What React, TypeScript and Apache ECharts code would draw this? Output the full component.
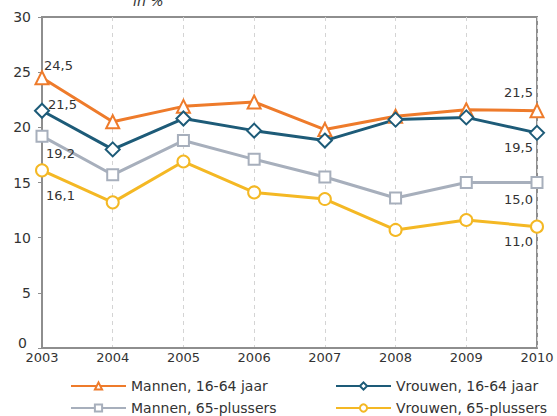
import React, { useEffect, useRef } from "react";
import * as echarts from "echarts";

const years = ["2003", "2004", "2005", "2006", "2007", "2008", "2009", "2010"];
const mannen1664 = [24.5, 20.5, 21.9, 22.3, 19.8, 21.0, 21.6, 21.5];
const vrouwen1664 = [21.5, 18.0, 20.8, 19.7, 18.8, 20.7, 20.9, 19.5];
const mannen65 = [19.2, 15.7, 18.8, 17.1, 15.5, 13.6, 15.0, 15.0];
const vrouwen65 = [16.1, 13.2, 16.9, 14.1, 13.5, 10.7, 11.6, 11.0];
const yTicks = [0, 5, 10, 15, 20, 25, 30];

const FONT = "DejaVu Sans";
const TXT = "#333333";
const AXIS = "#8e8e8e";

const fmt = (v: number) => v.toFixed(1).replace(".", ",");

type Cfg = {
  name: string;
  data: number[];
  color: string;
  symbol: string;
  size: number;
  first: [number, number];
  last: [number, number];
  legendPos: [number, number];
};

const cfgs: Cfg[] = [
  { name: "Mannen, 16-64 jaar", data: mannen1664, color: "#EE7B2B", symbol: "triangle", size: 13, first: [1, -12], last: [-3, -18], legendPos: [70, 379] },
  { name: "Vrouwen, 16-64 jaar", data: vrouwen1664, color: "#1D5B78", symbol: "diamond", size: 14, first: [5, -6], last: [-3, 15], legendPos: [335, 379] },
  { name: "Mannen, 65-plussers", data: mannen65, color: "#A7AFBC", symbol: "rect", size: 11, first: [3, 17], last: [-3, 17], legendPos: [70, 401] },
  { name: "Vrouwen, 65-plussers", data: vrouwen65, color: "#F4B824", symbol: "circle", size: 12, first: [3, 25], last: [-3, 15], legendPos: [335, 401] },
];

function buildSeries(c: Cfg) {
  const n = c.data.length;
  return {
    name: c.name,
    type: "line",
    data: c.data.map((v, i) => {
      if (i === 0) {
        return {
          value: v,
          label: {
            show: true,
            position: "right",
            distance: 0,
            offset: [c.first[0] - c.size / 2, c.first[1]],
            align: "left",
            verticalAlign: "middle",
          },
        };
      }
      if (i === n - 1) {
        return {
          value: v,
          label: {
            show: true,
            position: "left",
            distance: 0,
            offset: [c.last[0] + c.size / 2, c.last[1]],
            align: "right",
            verticalAlign: "middle",
          },
        };
      }
      return v;
    }),
    symbol: c.symbol,
    symbolSize: c.size,
    showAllSymbol: true,
    lineStyle: { color: c.color, width: 3 },
    itemStyle: { color: "#ffffff", borderColor: c.color, borderWidth: 2 },
    label: {
      show: false,
      color: TXT,
      fontFamily: FONT,
      fontSize: 13,
      formatter: (p: any) => fmt(p.value),
    },
    emphasis: { disabled: true },
    z: 3,
  };
}

export default function App() {
  const ref = useRef<HTMLDivElement>(null);
  useEffect(() => {
    if (!ref.current) return;
    const chart = echarts.init(ref.current, undefined, { renderer: "svg" });
    const legendText = { color: TXT, fontFamily: FONT, fontSize: 14 };
    chart.setOption({
      animation: false,
      backgroundColor: "#ffffff",
      title: {
        text: "in %",
        left: 128,
        top: -11,
        textStyle: { fontFamily: FONT, fontSize: 14, fontStyle: "italic", fontWeight: "normal", color: TXT },
      },
      grid: {
        left: 42,
        right: 20,
        top: 17,
        bottom: 68,
        show: true,
        borderColor: AXIS,
        borderWidth: 2,
        backgroundColor: "transparent",
      },
      legend: cfgs.map((c) => ({
        data: [c.name],
        orient: "horizontal",
        left: c.legendPos[0],
        top: c.legendPos[1],
        itemWidth: 55,
        itemHeight: 9,
        padding: 0,
        textStyle: legendText,
        selectedMode: false,
      })),
      xAxis: {
        type: "category",
        data: years,
        boundaryGap: false,
        axisLine: { lineStyle: { color: AXIS, width: 2 } },
        axisTick: { show: false },
        axisLabel: { color: TXT, fontFamily: FONT, fontSize: 13, margin: 3 },
        splitLine: { show: true, lineStyle: { color: "#d4d4d4", type: [4, 4], width: 1 } },
      },
      yAxis: {
        type: "value",
        min: yTicks[0],
        max: yTicks[yTicks.length - 1],
        interval: 5,
        axisLine: { show: true, lineStyle: { color: AXIS, width: 2 } },
        axisTick: { show: true, length: 4, lineStyle: { color: AXIS, width: 1 } },
        axisLabel: {
          color: TXT,
          fontFamily: FONT,
          fontSize: 14,
          margin: 11,
          formatter: (v: number) => (v === 0 ? "{z|0}" : String(v)),
          rich: { z: { color: TXT, fontFamily: FONT, fontSize: 14, padding: [0, 4, 10, 0] } },
        },
        splitLine: { show: false },
      },
      series: cfgs.map(buildSeries),
    });
    return () => chart.dispose();
  }, []);
  return <div ref={ref} style={{ position: "fixed", left: 0, top: 0, width: 557, height: 416 }} />;
}
